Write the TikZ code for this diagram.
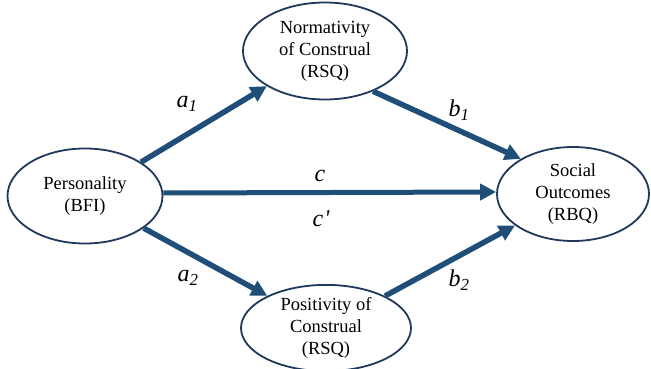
\documentclass[tikz,border=0pt]{standalone}
\usepackage{fontspec}
\setmainfont{Liberation Serif}
\usetikzlibrary{shapes.geometric,arrows.meta}
\definecolor{arrowblue}{RGB}{31,78,121}
\definecolor{rimblue}{RGB}{32,56,92}
\tikzset{
  construct/.style={ellipse, draw=rimblue, line width=1.8pt, fill=white, inner sep=0pt,
    align=center, font=\fontsize{18.5}{22}\selectfont},
  patharrow/.style={draw=arrowblue, line width=5.5pt,
    -{Triangle[length=16pt,width=16pt]}, shorten >=0pt},
  pathlabel/.style={font=\fontsize{24}{26}\selectfont\itshape, inner sep=0pt}
}
\begin{document}
\begin{tikzpicture}[x=1pt,y=-1pt]
\useasboundingbox (0,0) rectangle (651,369);
\node[construct, minimum width=155pt, minimum height=95pt] (pers) at (85,196) {Personality\\(BFI)};
\node[construct, minimum width=164pt, minimum height=97pt] (norm) at (325,51) {Normativity\\of Construal\\(RSQ)};
\node[construct, minimum width=170pt, minimum height=80pt] (pos) at (326,328) {Positivity of\\Construal\\(RSQ)};
\node[construct, minimum width=152pt, minimum height=94pt] (soc) at (573,194) {Social\\Outcomes\\(RBQ)};
\draw[patharrow] (pers) -- (norm);
\draw[patharrow] (norm.-40) -- (soc.146);
\draw[patharrow, line width=5pt] ([yshift=3pt]pers.east) -- ([yshift=2pt]soc.west);
\draw[patharrow] (pers) -- (pos);
\draw[patharrow] (pos) -- (soc);
\node[pathlabel] (la1) at (187,104) {a\textsubscript{1}};
\node[pathlabel] (lb1) at (459,110) {b\textsubscript{1}};
\node[pathlabel] (lc) at (320,176) {c};
\node[pathlabel] (lcp) at (321,219) {c\kern1pt\textquotesingle};
\node[pathlabel] (la2) at (188,278) {a\textsubscript{2}};
\node[pathlabel] (lb2) at (459,280) {b\textsubscript{2}};
\end{tikzpicture}
\end{document}
